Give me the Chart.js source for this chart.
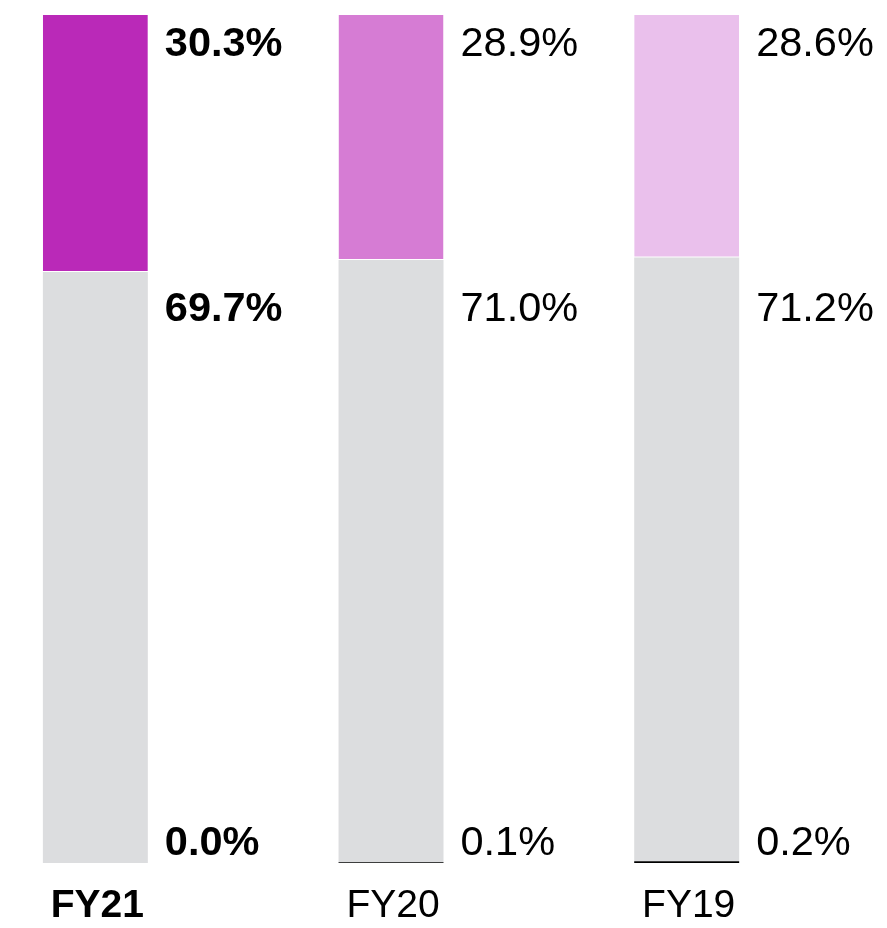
<!DOCTYPE html>
<html>
<head>
<meta charset="utf-8">
<script src="https://cdn.jsdelivr.net/npm/chart.js@4"></script>
<style>
  html, body { margin: 0; padding: 0; background: #fff; }
  #wrap { width: 887px; height: 928px; }
</style>
</head>
<body>
<div id="wrap"><canvas id="share-chart"></canvas></div>
<script>
const categories = ['FY21', 'FY20', 'FY19'];
const otherShare = [0.0, 0.1, 0.2];
const greyShare = [69.7, 71.0, 71.2];
const purpleShare = [30.3, 28.9, 28.6];
const purpleColors = ['#BA29B8', '#D67CD4', '#EAC0EC'];
const boldIndex = 0;

const FONT = '"Liberation Sans", Arial, Helvetica, sans-serif';

function fmt(v) {
    return v.toFixed(1) + '%';
}

// draws value labels to the right of each bar and the category names below
const labelPlugin = {
    id: 'labelPlugin',
    afterDatasetsDraw(chart) {
        const ctx = chart.ctx;
        const area = chart.chartArea;
        const metaGrey = chart.getDatasetMeta(1);
        const metaPurple = chart.getDatasetMeta(2);

        ctx.save();
        ctx.fillStyle = '#000';
        ctx.textBaseline = 'middle';

        categories.forEach((cat, i) => {
            const weight = i === boldIndex ? 'bold ' : '';
            ctx.font = weight + '41.5px ' + FONT;

            const p = metaPurple.data[i];
            const right = p.x + p.width / 2;
            const tx = right + 17;

            ctx.textAlign = 'left';
            ctx.fillText(fmt(purpleShare[i]), tx, p.y + 30);
            // middle row lines up with the first bar's grey segment
            const gy = metaGrey.data[0].y;
            ctx.fillText(fmt(greyShare[i]), tx, gy + 38);
            ctx.fillText(fmt(otherShare[i]), tx, area.bottom - 19);

            ctx.font = weight + '39px ' + FONT;
            ctx.textAlign = 'center';
            ctx.fillText(cat, p.x + 2, area.bottom + 43);
        });
        ctx.restore();
    }
};

const ctx = document.getElementById('share-chart').getContext('2d');
new Chart(ctx, {
    type: 'bar',
    data: {
        labels: categories,
        datasets: [
            {
                label: 'Other',
                data: otherShare,
                backgroundColor: '#000',
                stack: 'bars'
            },
            {
                label: 'Grey',
                data: greyShare,
                backgroundColor: '#DCDDDF',
                stack: 'bars'
            },
            {
                label: 'Purple',
                data: purpleShare,
                backgroundColor: purpleColors,
                borderColor: '#fff',
                borderWidth: { top: 0, left: 0, right: 0, bottom: 1 },
                borderSkipped: false,
                stack: 'bars'
            },
            {
                // empty stack that keeps the space for labels on the right
                label: 'spacer',
                data: [0, 0, 0],
                backgroundColor: 'rgba(0,0,0,0)',
                stack: 'space'
            }
        ]
    },
    options: {
        responsive: true,
        maintainAspectRatio: false,
        animation: false,
        datasets: {
            bar: {
                categoryPercentage: 0.71,
                barPercentage: 1
            }
        },
        layout: {
            padding: { top: 15, bottom: 65, left: 0, right: 0 }
        },
        plugins: {
            legend: { display: false },
            tooltip: { enabled: false }
        },
        scales: {
            x: {
                stacked: true,
                display: false
            },
            y: {
                stacked: true,
                display: false,
                min: 0,
                max: 100
            }
        }
    },
    plugins: [labelPlugin]
});
</script>
</body>
</html>
